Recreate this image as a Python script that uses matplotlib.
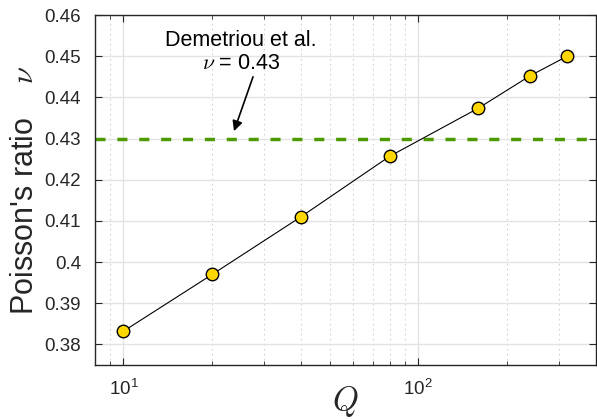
import matplotlib
matplotlib.use('Agg')
import matplotlib.pyplot as plt
from matplotlib.ticker import LogLocator, MultipleLocator, NullFormatter, FormatStrFormatter

plt.rcParams['font.family'] = ['Liberation Sans', 'DejaVu Sans']
plt.rcParams['mathtext.fontset'] = 'cm'

# data
Q = [10, 20, 40, 80, 160, 240, 320]
nu = [0.3832, 0.3970, 0.4110, 0.4257, 0.4374, 0.4453, 0.4500]
nu_ref = 0.43
ref_label = 'Demetriou et al.\n$\\nu$ = 0.43'

fig = plt.figure(figsize=(5.97, 4.19), dpi=100)
ax = fig.add_axes([0.159, 0.129, 0.839, 0.835])

ax.set_xscale('log')
ax.set_xlim(8, 400)
ax.set_ylim(0.375, 0.46)

# grid like the matlab default
ax.yaxis.set_major_locator(MultipleLocator(0.01))
ax.yaxis.set_major_formatter(FormatStrFormatter('%g'))
ax.xaxis.set_major_locator(LogLocator(base=10))
ax.xaxis.set_minor_locator(LogLocator(base=10, subs=range(2, 10)))
ax.xaxis.set_minor_formatter(NullFormatter())
ax.grid(True, which='major', color='#e3e3e3', lw=1.0, ls='-')
ax.grid(True, which='minor', axis='x', color='#d2d2d2', lw=0.8, ls=(0, (1.5, 3)))
ax.set_axisbelow(True)

ax.axhline(nu_ref, color='#4d9900', lw=2.5, ls=(0, (2.9, 3.4)), zorder=2)
ax.plot(Q, nu, color='black', lw=0.8, marker='o', ms=9, mfc='#ffd700',
        mec='black', mew=1.0, zorder=3)

# label and arrow
ax.text(25.0, 0.4457, ref_label, ha='center', va='bottom', fontsize=15.5,
        color='black', linespacing=1.15, multialignment='center')
ax.annotate('', xy=(23.7, 0.4318), xytext=(27.5, 0.4450),
            arrowprops=dict(arrowstyle='-|>', color='black', lw=1.2,
                            shrinkA=0, shrinkB=0, mutation_scale=15))

ax.set_ylabel("Poisson's ratio    $\\nu$", fontsize=22, color='#262626')
ax.yaxis.set_label_coords(-0.11, 0.5)
ax.set_xlabel('$Q$', fontsize=24, color='#262626', va='top')
ax.xaxis.set_label_coords(0.5, -0.055)

for s in ax.spines.values():
    s.set_color('#262626')
    s.set_linewidth(1.0)
ax.tick_params(which='both', direction='in', top=True, right=True,
               colors='#262626', labelsize=13.5)
ax.tick_params(which='major', length=5)
ax.tick_params(axis='y', which='major', pad=10)
ax.tick_params(axis='x', which='major', pad=10)
ax.tick_params(which='minor', length=3)

plt.savefig('out.png', dpi=100)
